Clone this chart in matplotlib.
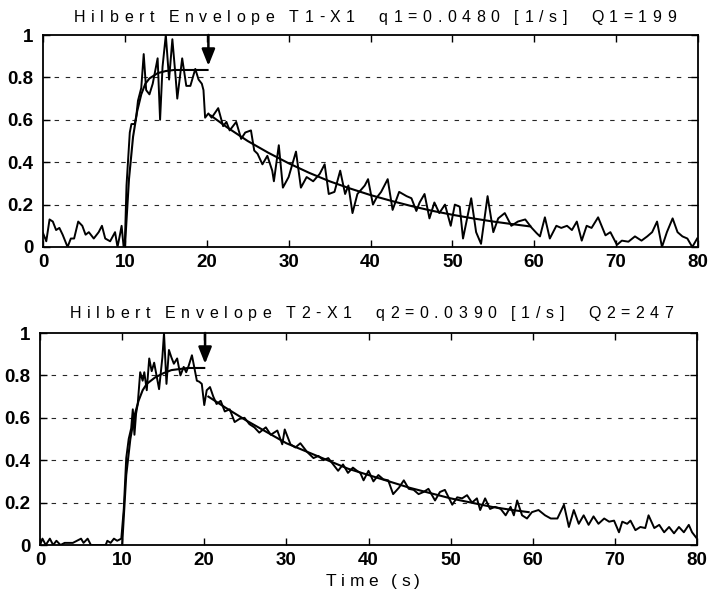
import numpy as np
import matplotlib
matplotlib.use("Agg")
import matplotlib.pyplot as plt

# ---------------------------------------------------------------------------
# Hilbert envelope, record T1-X1 (normalised amplitude vs time in seconds)
t1 = [0.0, 0.4, 0.8, 1.2, 1.6, 2.0, 2.4, 2.8, 3.0, 3.4, 3.8, 4.3, 4.8, 5.2, 5.6,
      6.2, 6.8, 7.2, 7.6, 8.2, 8.8, 9.1, 9.4, 9.6, 9.85, 10.0, 10.2, 10.6, 10.8,
      11.2, 11.4, 11.6, 12.0, 12.3, 12.6, 13.0, 13.4, 14.0, 14.3, 14.6, 15.0,
      15.4, 15.8, 16.2, 16.4, 17.0, 17.5, 18.0, 18.6, 19.0, 19.4, 19.6, 19.8,
      20.2, 20.6, 21.4, 22.0, 22.4, 22.8, 23.6, 24.2, 24.7, 25.4, 25.8, 26.2,
      26.8, 27.4, 28.0, 28.2, 28.8, 29.3, 30.0, 30.9, 31.5, 32.2, 33.0, 33.8,
      34.4, 34.9, 35.6, 36.3, 36.9, 37.3, 37.8, 38.4, 39.3, 39.7, 40.3, 40.7,
      41.3, 42.1, 42.7, 43.5, 44.4, 45.0, 45.6, 46.0, 46.6, 47.2, 47.8, 48.4,
      49.1, 49.8, 50.3, 50.9, 51.3, 52.3, 52.9, 53.5, 54.3, 55.0, 55.6, 56.4,
      57.2, 58.0, 58.9, 59.7, 60.3, 60.7, 61.3, 61.9, 62.7, 63.3, 64.0, 64.6,
      65.2, 65.8, 66.4, 67.0, 67.8, 68.7, 69.3, 70.1, 70.7, 71.5, 72.3, 73.1,
      73.8, 74.4, 75.0, 75.6, 76.2, 76.9, 77.5, 78.1, 78.7, 79.3, 79.9]
env1 = [0.066, 0.027, 0.13, 0.12, 0.08, 0.09, 0.058, 0.02, 0.0, 0.04, 0.04, 0.12,
        0.10, 0.058, 0.07, 0.04, 0.07, 0.10, 0.04, 0.027, 0.07, 0.0, 0.058, 0.10,
        0.0, 0.02, 0.29, 0.54, 0.58, 0.58, 0.62, 0.69, 0.75, 0.91, 0.74, 0.72,
        0.77, 0.89, 0.60, 0.85, 1.0, 0.79, 0.98, 0.80, 0.70, 0.89, 0.76, 0.76,
        0.84, 0.79, 0.77, 0.74, 0.61, 0.63, 0.61, 0.655, 0.57, 0.59, 0.55, 0.59,
        0.51, 0.54, 0.55, 0.455, 0.44, 0.39, 0.43, 0.36, 0.31, 0.48, 0.28, 0.33,
        0.45, 0.28, 0.33, 0.31, 0.345, 0.39, 0.25, 0.26, 0.36, 0.25, 0.29, 0.16,
        0.25, 0.29, 0.32, 0.20, 0.23, 0.26, 0.32, 0.175, 0.26, 0.24, 0.23, 0.17,
        0.21, 0.25, 0.135, 0.21, 0.16, 0.20, 0.10, 0.20, 0.19, 0.04, 0.23, 0.07,
        0.015, 0.24, 0.07, 0.135, 0.16, 0.10, 0.12, 0.13, 0.09, 0.065, 0.05,
        0.14, 0.04, 0.10, 0.09, 0.10, 0.08, 0.12, 0.03, 0.10, 0.09, 0.14, 0.055,
        0.07, 0.01, 0.03, 0.025, 0.05, 0.03, 0.05, 0.07, 0.12, 0.0, 0.07, 0.135,
        0.07, 0.05, 0.04, 0.0, 0.04]

# fitted build-up / plateau and exponential decay, record T1-X1
rise1_t = [10.0, 10.5, 11.0, 11.5, 12.0, 12.5, 13.0, 14.0, 15.0, 16.0, 17.0,
           18.0, 19.0, 20.1]
rise1_v = [0.0, 0.32, 0.52, 0.64, 0.72, 0.77, 0.795, 0.82, 0.83, 0.835, 0.835,
           0.835, 0.835, 0.835]
decay1_t = [20.5, 22.5, 25.0, 27.5, 30.0, 32.5, 35.0, 37.5, 40.0, 42.5, 45.0,
            47.5, 50.0, 52.5, 55.0, 57.5, 59.5]
decay1_v = [0.62, 0.564, 0.50, 0.445, 0.395, 0.35, 0.31, 0.276, 0.245, 0.218,
            0.193, 0.171, 0.152, 0.135, 0.12, 0.107, 0.097]

# ---------------------------------------------------------------------------
# Hilbert envelope, record T2-X1
t2 = [0.0, 0.3, 0.7, 1.2, 1.6, 2.0, 2.5, 3.0, 3.5, 4.0, 4.5, 5.0, 5.3, 5.8, 6.2,
      7.0, 8.0, 8.2, 8.6, 9.0, 9.4, 9.9, 10.2, 10.5, 10.8, 11.1, 11.3, 11.5,
      11.7, 11.9, 12.2, 12.5, 12.7, 13.0, 13.3, 13.6, 13.9, 14.5, 14.9, 15.1,
      15.4, 15.7, 16.0, 16.3, 16.7, 17.1, 17.5, 17.8, 18.1, 18.5, 18.9, 19.1,
      19.4, 19.7, 20.0, 20.3, 20.7, 21.1, 21.5, 22.0, 22.5, 23.1, 23.7, 24.3,
      24.9, 25.5, 26.1, 26.7, 27.5, 28.1, 28.9, 29.5, 29.8, 30.5, 31.1, 31.7,
      32.5, 33.3, 33.9, 34.5, 35.1, 35.7, 36.3, 36.9, 37.5, 38.1, 38.6, 39.0,
      39.4, 40.0, 40.6, 41.2, 41.8, 42.4, 43.0, 43.7, 44.3, 44.9, 45.5, 46.1,
      46.7, 47.3, 48.1, 48.7, 49.3, 50.2, 50.8, 51.4, 52.0, 52.6, 53.2, 53.6,
      54.2, 54.8, 55.4, 56.1, 56.7, 57.3, 57.7, 58.1, 58.7, 59.3, 59.9, 60.7,
      61.5, 62.2, 63.0, 63.8, 64.4, 65.0, 65.6, 66.2, 66.8, 67.4, 68.0, 68.7,
      69.3, 69.9, 70.5, 70.9, 71.5, 71.9, 72.5, 73.1, 73.7, 74.1, 74.8, 75.4,
      76.0, 76.6, 77.2, 77.8, 78.4, 79.0, 79.4, 79.8, 80.0]
env2 = [0.0, 0.03, 0.0, 0.03, 0.0, 0.02, 0.0, 0.01, 0.01, 0.01, 0.02, 0.03, 0.01,
        0.03, 0.0, 0.0, 0.0, 0.02, 0.01, 0.03, 0.02, 0.03, 0.17, 0.41, 0.50,
        0.55, 0.64, 0.52, 0.62, 0.665, 0.815, 0.775, 0.815, 0.73, 0.88, 0.82,
        0.86, 0.735, 0.885, 1.0, 0.76, 0.92, 0.885, 0.855, 0.88, 0.80, 0.84,
        0.815, 0.845, 0.895, 0.815, 0.775, 0.77, 0.76, 0.66, 0.73, 0.745, 0.70,
        0.665, 0.68, 0.63, 0.64, 0.58, 0.595, 0.60, 0.57, 0.555, 0.53, 0.555,
        0.52, 0.54, 0.475, 0.545, 0.475, 0.46, 0.48, 0.44, 0.41, 0.42, 0.40,
        0.41, 0.38, 0.35, 0.38, 0.34, 0.365, 0.35, 0.34, 0.305, 0.35, 0.30,
        0.33, 0.31, 0.305, 0.24, 0.27, 0.305, 0.265, 0.26, 0.24, 0.25, 0.265,
        0.21, 0.25, 0.26, 0.19, 0.225, 0.22, 0.235, 0.20, 0.22, 0.165, 0.22,
        0.17, 0.18, 0.17, 0.14, 0.18, 0.14, 0.21, 0.14, 0.125, 0.155, 0.165,
        0.14, 0.125, 0.125, 0.19, 0.085, 0.165, 0.10, 0.14, 0.095, 0.135, 0.10,
        0.125, 0.11, 0.115, 0.06, 0.11, 0.10, 0.115, 0.07, 0.085, 0.08, 0.14,
        0.08, 0.095, 0.06, 0.085, 0.055, 0.085, 0.06, 0.095, 0.06, 0.04, 0.03]

# fitted build-up / plateau and exponential decay, record T2-X1
rise2_t = [10.0, 10.5, 11.0, 11.5, 12.0, 12.5, 13.0, 14.0, 15.0, 16.0, 17.0,
           18.0, 19.0, 20.0]
rise2_v = [0.0, 0.33, 0.50, 0.61, 0.68, 0.73, 0.76, 0.79, 0.81, 0.825, 0.83,
           0.835, 0.835, 0.835]
decay2_t = [20.5, 22.5, 25.0, 27.5, 30.0, 32.5, 35.0, 37.5, 40.0, 42.5, 45.0,
            47.5, 50.0, 52.5, 55.0, 57.5, 59.5]
decay2_v = [0.70, 0.65, 0.59, 0.535, 0.48, 0.44, 0.40, 0.36, 0.33, 0.30, 0.27,
            0.245, 0.22, 0.20, 0.18, 0.165, 0.155]

titles = ["Hilbert Envelope T1-X1  q1=0.0480 [1/s]  Q1=199",
          "Hilbert Envelope T2-X1  q2=0.0390 [1/s]  Q2=247"]
arrow_t = [20.2, 20.1]
x_ticks = [0, 10, 20, 30, 40, 50, 60, 70, 80]
y_ticks = [0, 0.2, 0.4, 0.6, 0.8, 1.0]
y_tick_labels = ["0", "0.2", "0.4", "0.6", "0.8", "1"]
x_label = "Time (s)"

# ---------------------------------------------------------------------------
W_PX, H_PX = 709, 590
FONT = "Liberation Sans"
plt.rcParams["font.family"] = [FONT, "DejaVu Sans"]

fig = plt.figure(figsize=(W_PX / 100, H_PX / 100), dpi=100)
fig.patch.set_facecolor("white")


def px_box(left, top, right, bottom):
    """Axes rectangle from pixel edges (origin top-left)."""
    return [left / W_PX, 1 - bottom / H_PX, (right - left) / W_PX,
            (bottom - top) / H_PX]


ax_top = fig.add_axes(px_box(43, 35, 698, 247))
ax_bot = fig.add_axes(px_box(40, 333, 697, 545))

panels = [
    (ax_top, t1, env1, rise1_t, rise1_v, decay1_t, decay1_v),
    (ax_bot, t2, env2, rise2_t, rise2_v, decay2_t, decay2_v),
]

for i, (ax, tt, ee, rt, rv, dt, dv) in enumerate(panels):
    ax.plot(tt, ee, color="black", lw=1.4, solid_joinstyle="round")
    ax.plot(rt, rv, color="black", lw=1.5)
    ax.plot(dt, dv, color="black", lw=1.5)

    ax.set_xlim(0, 80)
    ax.set_ylim(0, 1)
    ax.set_xticks(x_ticks)
    ax.set_xticklabels([str(v) for v in x_ticks])
    ax.set_yticks(y_ticks)
    ax.set_yticklabels(y_tick_labels)
    ax.tick_params(direction="in", length=5, width=1.0, top=True, right=True,
                   labelsize=13.5, colors="black")
    ax.tick_params(axis="x", pad=5)
    ax.tick_params(axis="y", pad=7)
    for lab in ax.get_xticklabels() + ax.get_yticklabels():
        lab.set_fontweight("bold")
    for sp in ax.spines.values():
        sp.set_linewidth(1.3)

    # dashed horizontal grid
    for gy in y_ticks[1:-1]:
        ax.axhline(gy, color="0.15", lw=0.8, ls=(0, (4, 6)), zorder=0)

    # arrow marking the end of the build-up
    ax.annotate("", xy=(arrow_t[i], 0.855), xytext=(arrow_t[i], 1.0),
                arrowprops=dict(arrowstyle="-|>,head_length=1.0,head_width=0.4",
                                color="black", lw=1.8, shrinkA=0, shrinkB=0))

renderer = fig.canvas.get_renderer()


def spaced_text(text, x_start, x_end, baseline, size, weight="normal"):
    """Write text with wide, even letter spacing between two pixel columns."""
    arts, widths = [], []
    for ch in text:
        a = fig.text(0, 0, ch, fontsize=size, fontweight=weight, family=FONT,
                     ha="left", va="baseline")
        arts.append(a)
        widths.append(a.get_window_extent(renderer).width)
    glyph = [w for ch, w in zip(text, widths) if ch != " "]
    space_w = 0.45 * np.mean(glyph)
    widths = [space_w if ch == " " else w for ch, w in zip(text, widths)]
    gap = (x_end - x_start - sum(widths)) / (len(text) - 1)
    x = x_start
    for a, w in zip(arts, widths):
        a.set_position((x / W_PX, 1 - baseline / H_PX))
        x += w + gap


spaced_text(titles[0], 74, 676, 22, 11.5, weight="medium")
spaced_text(titles[1], 70, 673, 318, 11.5, weight="medium")
spaced_text(x_label, 326, 420, 586, 12.5, weight="medium")

fig.savefig("out.png", dpi=100, facecolor="white")
